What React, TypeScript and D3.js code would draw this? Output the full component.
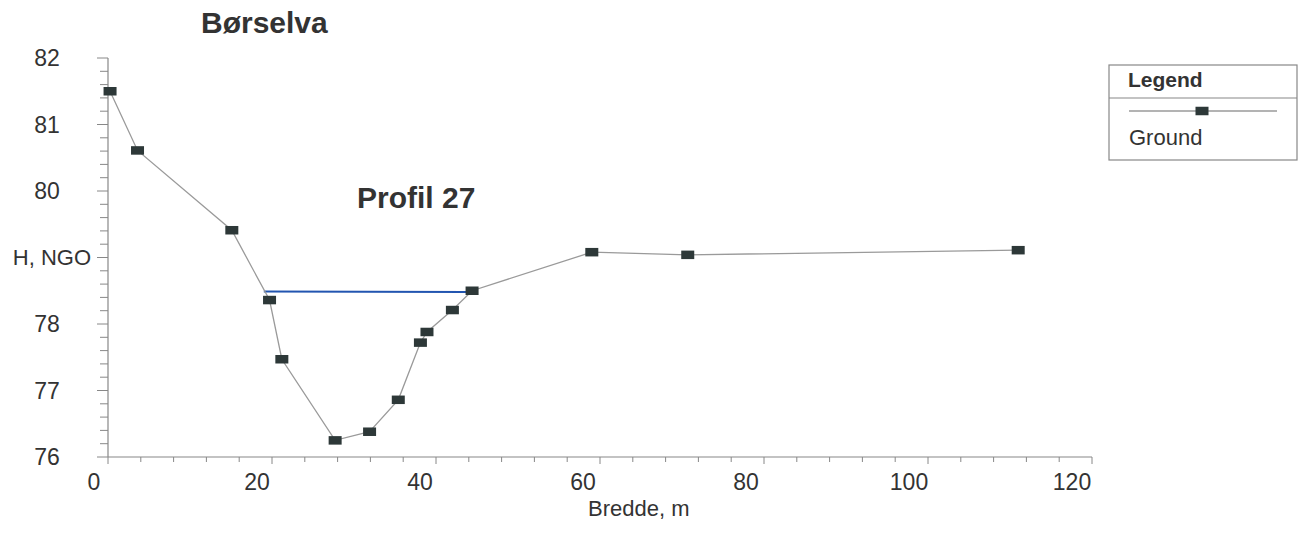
import React from "react";
import * as d3 from "d3";

const groundX = [0.25, 3.6, 15.1, 19.7, 21.2, 27.7, 31.9, 35.4, 38.1, 38.9, 42.0, 44.4, 59.0, 70.7, 111.0];
const groundY = [81.5, 80.61, 79.41, 78.36, 77.47, 76.25, 76.38, 76.86, 77.72, 77.88, 78.21, 78.5, 79.08, 79.04, 79.11];
const waterX = [19.0, 43.7];
const waterY = [78.49, 78.48];
const xTickLabels = [0, 20, 40, 60, 80, 100, 120];
const yTickLabels = [82, 81, 80, 78, 77, 76];
const yAxisTitle = "H, NGO";
const xAxisTitle = "Bredde, m";
const title1 = "Børselva";
const title2 = "Profil 27";
const legendTitle = "Legend";
const seriesName = "Ground";

const W = 1304;
const H = 544;
const FONT = "'Liberation Sans', Arial, Helvetica, sans-serif";

export default function App() {
  const x = d3.scaleLinear().domain([0, 120]).range([108, 1092]);
  const y = d3.scaleLinear().domain([76, 82]).range([457, 58]);

  const groundPts: [number, number][] = groundX.map((v, i) => [v, groundY[i]]);
  const waterPts: [number, number][] = waterX.map((v, i) => [v, waterY[i]]);
  const line = d3
    .line<[number, number]>()
    .x((d) => x(d[0]))
    .y((d) => y(d[1]));

  const yMinor = d3.range(76, 82.0001, 0.2);
  const xMinor = d3.range(0, 120.0001, 4);
  const textColor = "#333";
  const markerColor = "#2d3838";
  const mw = 13;
  const mh = 8.5;

  return (
    <div style={{ position: "fixed", left: 0, top: 0 }}>
      <svg width={W} height={H} style={{ display: "block", background: "#fff" }} fontFamily={FONT}>
        {/* Titles */}
        <text x={201} y={33} fontSize={30} fontWeight="bold" fill={textColor}>
          {title1}
        </text>
        <text x={357} y={208} fontSize={30} fontWeight="bold" fill={textColor}>
          {title2}
        </text>

        {/* Y axis */}
        <line x1={108} x2={108} y1={y(82)} y2={y(76)} stroke="#888" strokeWidth={1.2} />
        {yMinor.map((v, i) => {
          const major = Math.abs(v - Math.round(v)) < 1e-6;
          return (
            <line
              key={"ym" + i}
              x1={108 - (major ? 11 : 8)}
              x2={108}
              y1={y(v)}
              y2={y(v)}
              stroke="#888"
              strokeWidth={1}
            />
          );
        })}
        {yTickLabels.map((v) => (
          <text
            key={"yl" + v}
            x={47}
            y={y(v)}
            dy="0.36em"
            textAnchor="middle"
            fontSize={23}
            fill={textColor}
          >
            {v}
          </text>
        ))}
        <text x={91} y={y(79)} dy="0.36em" textAnchor="end" fontSize={22} fill={textColor}>
          {yAxisTitle}
        </text>

        {/* X axis */}
        <line x1={x(0)} x2={x(120)} y1={457} y2={457} stroke="#888" strokeWidth={1.2} />
        {xMinor.map((v, i) => {
          const major = Math.abs(v % 20) < 1e-6;
          return (
            <line
              key={"xm" + i}
              x1={x(v)}
              x2={x(v)}
              y1={457}
              y2={457 + (major ? 7 : 5)}
              stroke="#888"
              strokeWidth={1}
            />
          );
        })}
        {xTickLabels.map((v) => (
          <text
            key={"xl" + v}
            x={x(v) - 14 - v * 0.05}
            y={490}
            textAnchor="middle"
            fontSize={23}
            fill={textColor}
          >
            {v}
          </text>
        ))}
        <text x={588} y={516} fontSize={22} fill={textColor}>
          {xAxisTitle}
        </text>

        {/* Water surface */}
        <path d={line(waterPts) || ""} fill="none" stroke="#2255b0" strokeWidth={2} />

        {/* Ground */}
        <path d={line(groundPts) || ""} fill="none" stroke="#9a9a9a" strokeWidth={1.3} />
        {groundPts.map((p, i) => (
          <rect
            key={"g" + i}
            x={x(p[0]) - mw / 2}
            y={y(p[1]) - mh / 2}
            width={mw}
            height={mh}
            fill={markerColor}
          />
        ))}

        {/* Legend */}
        <rect x={1109} y={65} width={188} height={95} fill="#fff" stroke="#888" strokeWidth={1.2} />
        <line x1={1109} x2={1297} y1={98} y2={98} stroke="#888" strokeWidth={1.2} />
        <text x={1128} y={87} fontSize={21} fontWeight="bold" fill={textColor}>
          {legendTitle}
        </text>
        <line x1={1129} x2={1277} y1={111} y2={111} stroke="#9a9a9a" strokeWidth={1.3} />
        <rect x={1202 - mw / 2} y={111 - mh / 2} width={mw} height={mh} fill={markerColor} />
        <text x={1129} y={145} fontSize={22} fill={textColor}>
          {seriesName}
        </text>
      </svg>
    </div>
  );
}
